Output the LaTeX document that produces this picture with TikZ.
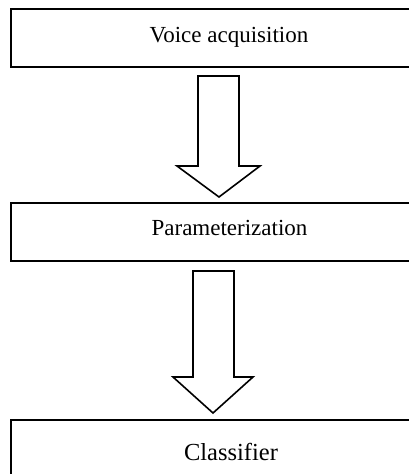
\documentclass[tikz,border=0pt]{standalone}
\usepackage{fontspec}
\setmainfont{Liberation Serif}
\begin{document}
\begin{tikzpicture}[x=1pt,y=-1pt,
  box/.style={draw=black,line width=2pt,fill=white,minimum width=436pt,minimum height=58pt,inner sep=0pt},
  blockarrow/.style={draw=black,line width=1.6pt,fill=white,line join=miter},
  lbl/.style={anchor=base,inner sep=0pt,font=\fontsize{23}{26}\selectfont}]
\useasboundingbox (0,0) rectangle (409,474);
\clip (0,0) rectangle (409,474);
\node[box] (b1) at (229,38) {};
\node[box] (b2) at (229,231.5) {};
\node[box] (b3) at (229,449) {};
\node[lbl] (t1) at (229,42) {Voice acquisition};
\node[lbl] (t2) at (229.5,235) {Parameterization};
\node[lbl,font=\fontsize{24.5}{28}\selectfont] (t3) at (231,460) {Classifier};
% block arrows
\draw[blockarrow] (198,76) -- (239,76) -- (239,166) -- (260,166) -- (219,197) -- (177,166) -- (198,166) -- cycle;
\draw[blockarrow] (193,271) -- (234,271) -- (234,377) -- (253,377) -- (213,413) -- (173,377) -- (193,377) -- cycle;
\end{tikzpicture}
\end{document}
